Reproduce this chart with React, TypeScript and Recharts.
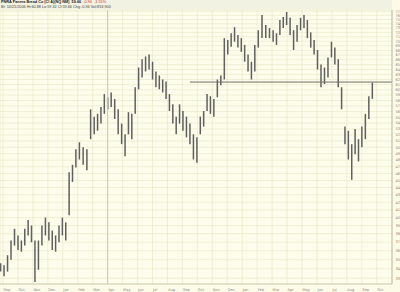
import React from 'react';
import { ComposedChart, Bar, XAxis, YAxis, CartesianGrid, ReferenceLine } from 'recharts';

const monthLabels = ['Sep','Oct','Nov','Dec','Jan','Feb','Mar','Apr','May','Jun','Jul','Aug','Sep','Oct','Nov','Dec','Jan','Feb','Mar','Apr','May','Jun','Jul','Aug','Sep','Oct'];
const firstWeek = '2004-08-27';

const highs = [
  34.6, 34.4, 35.5, 37.2, 38.6, 37.8, 37.2, 38.6, 39.7, 39.0,
  37.2, 37.2, 39.0, 40.0, 39.4, 38.4, 37.8, 39.0, 40.0, 39.4,
  46.2, 47.3, 49.7, 50.8, 50.0, 49.7, 56.4, 55.1, 55.6, 56.8,
  59.2, 58.6, 59.5, 58.3, 56.4, 53.9, 52.1, 55.9, 55.6, 60.5,
  64.4, 66.1, 66.7, 67.1, 65.6, 63.6, 62.8, 62.0, 61.6, 59.2,
  57.3, 55.1, 57.3, 56.1, 55.1, 53.9, 52.1, 51.6, 55.1, 56.1,
  59.2, 58.8, 58.3, 62.0, 62.8, 70.7, 70.3, 71.8, 73.2, 71.4,
  70.7, 69.2, 67.1, 65.6, 69.2, 72.5, 76.1, 73.7, 73.0, 72.5,
  71.8, 74.9, 75.6, 76.8, 75.4, 72.5, 73.7, 75.4, 76.1, 74.9,
  72.0, 70.3, 68.1, 65.0, 64.4, 66.5, 69.9, 68.6, 66.1, 60.5,
  53.4, 52.7, 50.5, 53.0, 51.3, 53.4, 55.6, 58.8, 61.4,
];
const lows = [
  33.7, 33.2, 33.7, 35.0, 36.6, 36.1, 35.9, 36.6, 37.8, 37.0,
  32.6, 33.9, 36.6, 37.8, 37.2, 36.1, 35.9, 37.0, 37.8, 37.2,
  40.3, 44.8, 46.9, 48.1, 47.3, 46.5, 51.3, 52.1, 52.7, 53.9,
  55.6, 56.4, 56.8, 54.7, 52.1, 50.5, 48.6, 52.1, 51.3, 55.6,
  60.1, 62.4, 63.6, 64.0, 62.0, 60.5, 60.1, 59.5, 58.3, 56.1,
  53.9, 52.1, 53.9, 52.7, 51.6, 50.5, 48.1, 47.6, 52.1, 53.4,
  56.1, 55.6, 55.1, 58.6, 60.9, 62.0, 67.1, 68.8, 69.9, 68.6,
  67.7, 65.6, 63.6, 62.0, 63.6, 68.6, 70.7, 70.7, 70.7, 69.9,
  69.2, 71.4, 73.0, 73.7, 71.4, 68.1, 69.9, 72.5, 73.0, 70.7,
  68.6, 67.1, 64.0, 60.5, 61.1, 62.4, 66.5, 65.0, 60.5, 56.4,
  50.5, 48.1, 45.1, 48.9, 47.8, 50.0, 51.3, 54.7, 58.3,
];

const priceTicks = [33,34,35,36,37,38,39,40,41,42,43,44,45,46,47,48,49,50,51,52,53,54,55,56,57,58,59,60,61,62,63,64,65,66,67,68,69,70,71,72,73,74,75,76,77];
const resistancePrice = 61.5;
const resistanceStart = '2005-09-16';

// month position: Sep 2004 = 0, fractional within month
function monthPos(d: Date): number {
  const y = d.getUTCFullYear();
  const m = d.getUTCMonth();
  const day = d.getUTCDate();
  const dim = new Date(Date.UTC(y, m + 1, 0)).getUTCDate();
  return (y - 2004) * 12 + (m - 8) + (day - 1) / dim;
}
function parseDate(s: string): Date {
  const [y, m, d] = s.split('-').map(Number);
  return new Date(Date.UTC(y, m - 1, d));
}

const start = parseDate(firstWeek);
const data = highs.map((h, i) => {
  const d = new Date(start.getTime() + i * 7 * 86400000);
  return { t: monthPos(d), range: [lows[i], h] };
});
const monthTicks = monthLabels.map((_, i) => i);
const X_MIN = -0.2;
const X_MAX = 26.02;

const MonthTick = (props: any) => {
  const { x, y, payload } = props;
  return (
    <text x={x + 0.5} y={y + 4.5} fontSize={3.6} fill="#888" textAnchor="start" fontFamily="DejaVu Sans">
      {monthLabels[payload.value]}
    </text>
  );
};

const PriceTick = (props: any) => {
  const { x, y, payload } = props;
  return (
    <text x={x + 1.5} y={y + 1.3} fontSize={3.6} fill="#888" textAnchor="start" fontFamily="DejaVu Sans">
      {payload.value}
    </text>
  );
};

export default function App() {
  return (
    <div style={{ position: 'absolute', left: 0, top: 0, width: 400, height: 292, background: '#fbfbe8', overflow: 'hidden' }}>
      <div style={{ position: 'absolute', left: 0, top: 0, width: 392, height: 9, background: '#f2f2e2' }} />
      <ComposedChart width={400} height={292} data={data} margin={{ top: 10, right: 0, left: 0, bottom: 0 }}>
        <CartesianGrid stroke="#e6e6c8" fill="#fdfdeb" strokeWidth={0.6} />
        <XAxis dataKey="t" type="number" domain={[X_MIN, X_MAX]} allowDataOverflow ticks={monthTicks} interval={0}
          tick={<MonthTick />} tickLine={false} tickSize={0} axisLine={{ stroke: '#cfcfb8' }} height={8} />
        <YAxis orientation="right" type="number" scale="log" domain={[32.4, 77.3]} allowDataOverflow ticks={priceTicks}
          interval={0} width={8} tickLine={false} tickSize={0} axisLine={{ stroke: '#bdbda8' }} tick={<PriceTick />} />
        <ReferenceLine x={7} stroke="#cacab4" strokeWidth={1} />
        <ReferenceLine segment={[{ x: monthPos(parseDate(resistanceStart)), y: resistancePrice }, { x: X_MAX, y: resistancePrice }]}
          stroke="#707064" strokeWidth={1} ifOverflow="visible" />
        <Bar dataKey="range" fill="#606060" barSize={1.5} isAnimationActive={false} />
      </ComposedChart>
      <div style={{ position: 'absolute', left: 1, top: 0, fontFamily: 'Liberation Sans', fontSize: 3.8, lineHeight: '4.5px', whiteSpace: 'nowrap', color: '#222' }}>
        <div><b>PNRA Panera Bread Co (Cl A)(NQ NM)&nbsp; 59.66</b> <span style={{ color: '#d03030' }}>&nbsp;-0.94&nbsp; -1.55%</span></div>
        <div style={{ color: '#444' }}>Bt: 10/21/2006 Hi:60.88 Lo:59.32 Cl:59.66 Chg:-0.94 Vol:853,900</div>
      </div>
    </div>
  );
}
